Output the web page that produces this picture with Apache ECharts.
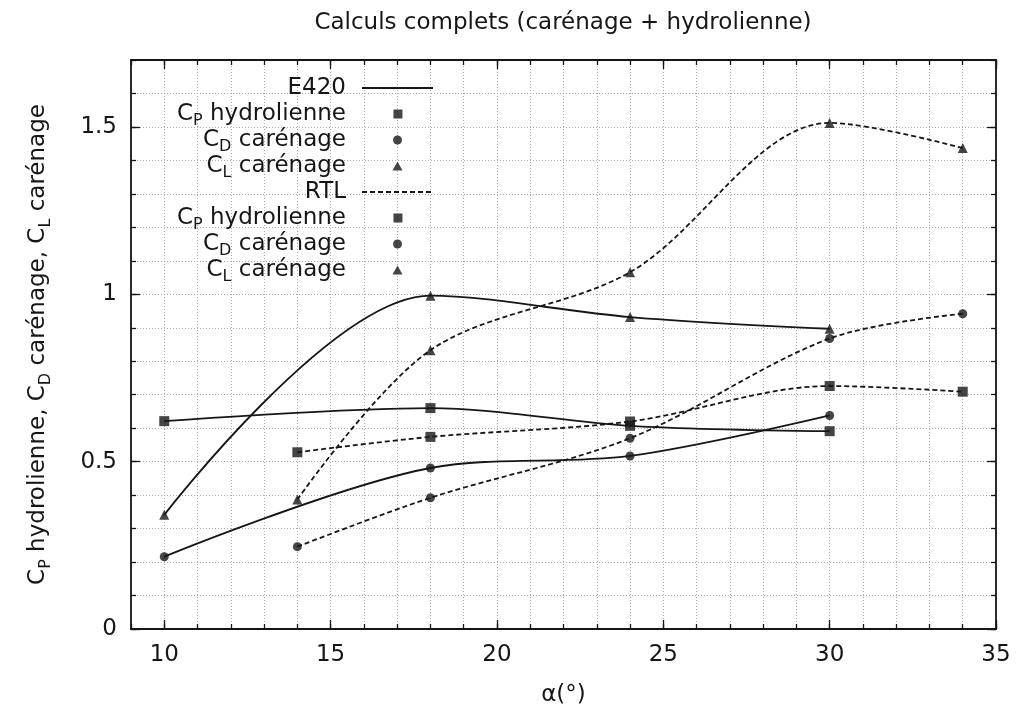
<!DOCTYPE html>
<html>
<head>
<meta charset="utf-8">
<script src="https://cdn.jsdelivr.net/npm/echarts@6/dist/echarts.min.js"></script>
<style>
html,body{margin:0;padding:0;background:#fff;}
#chart{width:1016px;height:713px;}
</style>
</head>
<body>
<div id="chart"></div>
<script>
// ---- data ----
const titleText = 'Calculs complets (carénage + hydrolienne)';
const xE420 = [10, 18, 24, 30];
const cpE420 = [0.621, 0.660, 0.607, 0.591];
const cdE420 = [0.216, 0.481, 0.517, 0.638];
const clE420 = [0.341, 0.996, 0.932, 0.897];
const xRTL = [14, 18, 24, 30, 34];
const cpRTL = [0.528, 0.574, 0.620, 0.726, 0.709];
const cdRTL = [0.246, 0.392, 0.570, 0.868, 0.942];
const clRTL = [0.387, 0.833, 1.066, 1.512, 1.437];
const xMajorTicks = [10, 15, 20, 25, 30, 35];
const yMajorTicks = [0, 0.5, 1, 1.5];
const legendLabels = {
  'E420': '{n|E420}{z| }',
  'cp1': '{n|C}{s|P}{n| hydrolienne}{z| }',
  'cd1': '{n|C}{s|D}{n| carénage}{z| }',
  'cl1': '{n|C}{s|L}{n| carénage}{z| }',
  'RTL': '{n|RTL}{z| }',
  'cp2': '{n|C}{s|P}{n| hydrolienne}{z| }',
  'cd2': '{n|C}{s|D}{n| carénage}{z| }',
  'cl2': '{n|C}{s|L}{n| carénage}{z| }'
};
const yName = '{n|C}{s|P}{n| hydrolienne, C}{s|D}{n| carénage, C}{s|L}{n| carénage}';
const xName = 'α(°)';

// ---- styling ----
const FONT = 'DejaVu Sans';
const INK = '#161616';
const FS = 23;
const subStyle = {fontFamily: FONT, fontSize: 16, lineHeight: 10, padding: [14, 0, 0, 0], color: INK};
const rich = {
  n: {fontFamily: FONT, fontSize: FS, lineHeight: 25, color: INK},
  s: subStyle,
  z: Object.assign({}, subStyle, {width: 11})
};
// legend icons (square / triangle) drawn inside a box the size of the legend icon
const ICON_SQUARE = 'path://M0,0M71,9M31,-0.5h10v10h-10z';
const ICON_TRIANGLE = 'path://M0,0M71,9M35.5,0L40.5,9H30.5Z';
const pairs = (xs, ys) => xs.map((x, i) => [x, ys[i]]);

function lineSeries(name, xs, ys, dashed) {
  return {
    name, type: 'line', data: pairs(xs, ys), smooth: 0.33, symbol: 'none',
    lineStyle: {color: INK, width: 1.8, type: dashed ? [5, 3] : 'solid'},
    itemStyle: {color: INK, opacity: 0}, z: 3, silent: true
  };
}
function markSeries(name, xs, ys, symbol, size) {
  return {
    name, type: 'scatter', data: pairs(xs, ys), symbol, symbolSize: size,
    itemStyle: {color: INK}, z: 4, silent: true
  };
}

const axisLineStyle = {color: INK, width: 1.8};
const tickStyle = {color: INK, width: 1.3};

const chart = echarts.init(document.getElementById('chart'), null, {renderer: 'canvas'});
chart.setOption({
  animation: false,
  backgroundColor: '#fff',
  title: {
    text: titleText, left: 558, textAlign: 'center', top: 7,
    textStyle: {fontFamily: FONT, fontSize: FS, fontWeight: 'normal', color: INK}
  },
  grid: {left: 131, right: 20, top: 60, bottom: 81, containLabel: false},
  xAxis: [
    {
      type: 'value', position: 'bottom', min: 9, max: 35, interval: 1,
      axisLine: {onZero: false, lineStyle: axisLineStyle},
      axisTick: {inside: true, length: 5, lineStyle: tickStyle},
      axisLabel: {customValues: xMajorTicks, margin: 15, fontFamily: FONT, fontSize: FS, color: INK},
      splitLine: {show: true, lineStyle: {color: '#ababab', width: 1, type: [1, 2]}},
      name: xName, nameLocation: 'middle', nameGap: 53,
      nameTextStyle: {fontFamily: FONT, fontSize: FS, lineHeight: 26, color: INK}
    },
    {
      type: 'value', position: 'bottom', min: 9, max: 35,
      axisLine: {show: false, onZero: false},
      axisTick: {inside: true, length: 9, customValues: xMajorTicks, lineStyle: tickStyle},
      axisLabel: {show: false}, splitLine: {show: false}
    },
    {
      type: 'value', position: 'top', min: 9, max: 35, interval: 1,
      axisLine: {onZero: false, lineStyle: axisLineStyle},
      axisTick: {inside: true, length: 5, lineStyle: tickStyle},
      axisLabel: {show: false}, splitLine: {show: false}
    },
    {
      type: 'value', position: 'top', min: 9, max: 35,
      axisLine: {show: false, onZero: false},
      axisTick: {inside: true, length: 9, customValues: xMajorTicks, lineStyle: tickStyle},
      axisLabel: {show: false}, splitLine: {show: false}
    }
  ],
  yAxis: [
    {
      type: 'value', position: 'left', min: 0, max: 1.7, interval: 0.1,
      axisLine: {show: true, onZero: false, lineStyle: axisLineStyle},
      axisTick: {show: true, inside: true, length: 5, lineStyle: tickStyle},
      axisLabel: {customValues: yMajorTicks, margin: 14, fontFamily: FONT, fontSize: FS, color: INK},
      splitLine: {show: true, lineStyle: {color: '#ababab', width: 1, type: [1, 2]}},
      name: yName, nameLocation: 'middle', nameGap: 80, nameRotate: 90,
      nameTextStyle: {rich: rich}
    },
    {
      type: 'value', position: 'left', min: 0, max: 1.7,
      axisLine: {show: false, onZero: false},
      axisTick: {show: true, inside: true, length: 9, customValues: yMajorTicks, lineStyle: tickStyle},
      axisLabel: {show: false}, splitLine: {show: false}
    },
    {
      type: 'value', position: 'right', min: 0, max: 1.7, interval: 0.1,
      axisLine: {show: true, onZero: false, lineStyle: axisLineStyle},
      axisTick: {show: true, inside: true, length: 5, lineStyle: tickStyle},
      axisLabel: {show: false}, splitLine: {show: false}
    },
    {
      type: 'value', position: 'right', min: 0, max: 1.7,
      axisLine: {show: false, onZero: false},
      axisTick: {show: true, inside: true, length: 9, customValues: yMajorTicks, lineStyle: tickStyle},
      axisLabel: {show: false}, splitLine: {show: false}
    }
  ],
  legend: {
    orient: 'vertical', align: 'right', right: 582, top: 73, padding: 0,
    itemWidth: 71, itemHeight: 9, itemGap: -4, symbolKeepAspect: true, selectedMode: false,
    data: [
      {name: 'E420', itemStyle: {opacity: 0}},
      {name: 'cp1', icon: ICON_SQUARE},
      {name: 'cd1', icon: 'circle'},
      {name: 'cl1', icon: ICON_TRIANGLE},
      {name: 'RTL', itemStyle: {opacity: 0}},
      {name: 'cp2', icon: ICON_SQUARE},
      {name: 'cd2', icon: 'circle'},
      {name: 'cl2', icon: ICON_TRIANGLE}
    ],
    formatter: name => legendLabels[name],
    textStyle: {fontFamily: FONT, fontSize: FS, color: INK, rich: rich}
  },
  series: [
    lineSeries('E420', xE420, cpE420, false),
    lineSeries('E420', xE420, cdE420, false),
    lineSeries('E420', xE420, clE420, false),
    markSeries('cp1', xE420, cpE420, 'rect', 10),
    markSeries('cd1', xE420, cdE420, 'circle', 9),
    markSeries('cl1', xE420, clE420, 'triangle', 10),
    lineSeries('RTL', xRTL, cpRTL, true),
    lineSeries('RTL', xRTL, cdRTL, true),
    lineSeries('RTL', xRTL, clRTL, true),
    markSeries('cp2', xRTL, cpRTL, 'rect', 10),
    markSeries('cd2', xRTL, cdRTL, 'circle', 9),
    markSeries('cl2', xRTL, clRTL, 'triangle', 10)
  ]
});
</script>
</body>
</html>
